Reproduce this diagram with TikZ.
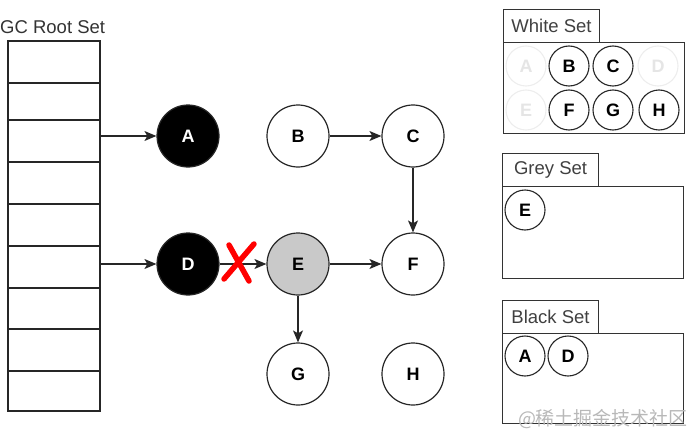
\documentclass[tikz,border=0pt]{standalone}
\usepackage{fontspec}
\setmainfont{Liberation Sans}
\newfontfamily\cjkfont{Noto Sans CJK SC}
\usetikzlibrary{arrows.meta,positioning}

\begin{document}
\begin{tikzpicture}[x=1pt,y=-1pt,
      cell/.style={draw=black!85,line width=1.2pt,minimum width=92pt,inner sep=0pt},
      obj/.style={circle,draw=black!85,line width=1.2pt,minimum size=62pt,inner sep=0pt,
        font=\fontsize{18}{20}\selectfont\bfseries},
      mini/.style={circle,draw=black!85,line width=1.1pt,minimum size=40pt,inner sep=0pt,
        font=\fontsize{18}{20}\selectfont\bfseries},
      ghost/.style={mini,draw=black!7,text=black!10},
      tab/.style={draw=black!80,line width=1.1pt,minimum width=96pt,minimum height=33pt,
        inner sep=0pt,anchor=north west,font=\fontsize{18.5}{20}\selectfont,text=black!75},
      setbox/.style={draw=black!80,line width=1.1pt,minimum width=181pt,inner sep=0pt,
        anchor=north west},
      link/.style={-{Stealth[length=12pt,width=10pt,inset=3pt]},line width=1.1pt,draw=black!85}
    ]
    \useasboundingbox (0,0) rectangle (692,433);

    % La pile des racines : neuf cases empilées.
    \node[anchor=west,inner sep=0pt,font=\fontsize{18.5}{20}\selectfont,text=black!80]
      (rootlbl) at (0,27) {GC Root Set};
    \foreach \i/\t/\b in {1/41/83,2/83/120,3/120/162,4/162/204,5/204/246,
      6/246/288,7/288/329,8/329/371,9/371/411}{
      \node[cell,minimum height={(\b-\t)*1pt}] (r\i) at (54,{(\t+\b)/2}) {};
    }

    \node[obj,fill=black,text=white] (a) at (188,136) {A};
    \node[obj] (b) at (298,136) {B};
    \node[obj] (c) at (413,136) {C};
    \node[obj,fill=black,text=white] (d) at (188,264) {D};
    \node[obj,fill=black!21] (e) at (298,264) {E};
    \node[obj] (f) at (413,264) {F};
    \node[obj] (g) at (298,374) {G};
    \node[obj] (h) at (413,374) {H};

    \draw[link] (a -| r3.east) -- (a);
    \draw[link] (d -| r6.east) -- (d);
    \draw[link] (b) -- (c);
    \draw[link] (c) -- (f);
    \draw[link] (d) -- (e);
    \draw[link] (e) -- (f);
    \draw[link] (e) -- (g);

    % Croix rouge : la référence D -> E est coupée.
    \draw[red,line width=5.5pt,line cap=round] (229,245) -- (249,281) (254,244) -- (224,279);

    % Les trois ensembles
    \node[setbox,minimum height=91pt] (wbox) at (503,42) {};
    \node[tab] (wtab) at (503,9) {White Set};
    \foreach \n/\l/\x/\y/\s in {wa/A/526/66/ghost,wb/B/569/66/mini,wc/C/613/66/mini,
      wd/D/658/66/ghost,we/E/526/110/ghost,wf/F/569/110/mini,wg/G/613/110/mini,
      wh/H/659/110/mini}{
      \node[\s] (\n) at (\x,\y) {\l};
    }

    \node[setbox,minimum height=92pt] (gbox) at (502,186) {};
    \node[tab] (gtab) at (502,153) {Grey Set};
    \node[mini] (ge) at (525,210) {E};

    \node[setbox,minimum height=90pt] (bbox) at (502,333) {};
    \node[tab] (btab) at (502,300) {Black Set};
    \node[mini] (ba) at (525,356) {A};
    \node[mini] (bd) at (568,356) {D};

    \node[font=\cjkfont\fontsize{19}{21}\selectfont,text=black!28,inner sep=0pt]
      (mark) at (603,419) {@稀土掘金技术社区};
  \end{tikzpicture}
\end{document}
